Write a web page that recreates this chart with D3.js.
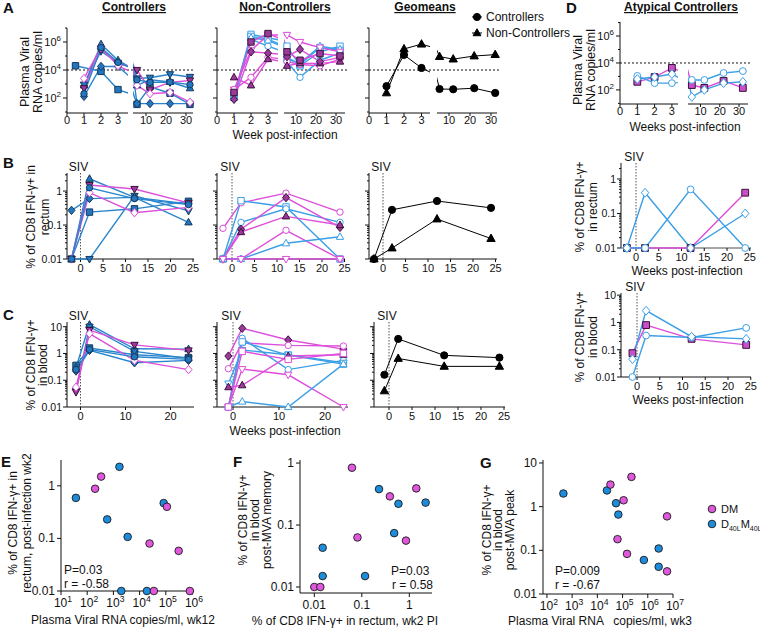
<!DOCTYPE html>
<html><head><meta charset="utf-8">
<script src="https://cdn.jsdelivr.net/npm/d3@7"></script>
<style>body{margin:0;background:#fff} svg{font-family:"Liberation Sans",Arial,Helvetica,sans-serif}</style>
</head><body><svg id="c" width="760" height="630"></svg>
<script>
// ================= DATA =================
// Row A: plasma viral RNA (copies/ml) vs week post-infection, [week, value]
const vlCtrl = [
  [[0.5,2e4],[2,8e3],[3,4e2],[5.5,35],[12,6.3e2],[22,2.2e2],[32,35]],
  [[1,8e2],[2,7e5],[3,5e4],[5.5,8e2],[12,2e3],[22,1.4e3],[32,5e2]],
  [[1,9e2],[2,2.2e5],[3,3.2e4],[5.5,2.5e3],[12,2.8e3],[22,5e3],[32,3.2e3]],
  [[1,1.3e2],[2,1.8e4],[3,1.8e4],[5.5,40],[12,40],[22,40],[32,40]],
  [[1,5e2],[2,3.2e5],[3,2.5e4],[5.5,1e4],[12,4e2],[22,1.3e3],[32,1.8e3]],
  [[1,2.5e3],[2,4e5],[3,2e4],[5.5,8e2],[12,2e2],[22,2.5e2],[32,50]],
  [[1,2e2],[2,4e5],[3,3.5e4],[5.5,2e3],[12,1.3e3],[22,1.4e3],[32,9e2]]
];
const vlCtrlSty = ['bSqF','bTriF','bInvF','bDiaF','pInvF','mDiaO','bCirF'];

const vlNon = [
  [[1,1.6e2],[2,3.5e6],[3,2e6],[5.5,5e5],[12,2e4],[22,2e5],[32,5e5]],
  [[1,1.3e2],[2,2.5e6],[3,1.6e6],[5.5,8e4],[12,2.5e4],[22,4e5],[32,2.5e5]],
  [[1,1e2],[2,1.6e6],[3,5e5],[5.5,4e4],[12,3e3],[22,5e4],[32,1.6e5]],
  [[1,1e2],[2,2e6],[3,1.3e6],[5.5,6e4],[12,3e4],[22,5e5],[32,3e5]],
  [[1,4e2],[2,2.5e5],[3,3.2e6],[5.5,3.2e6],[12,1e6],[22,4e5],[32,2e5]],
  [[1,4e2],[2,3e3],[3,8e4],[5.5,4e4],[12,2.5e4],[22,2e4],[32,6e4]],
  [[1,3e3],[2,8e2],[3,6e4],[5.5,2e4],[12,3e4],[22,3e4],[32,4e4]],
  [[1,80],[2,2e5],[3,1.6e5],[5.5,9e4],[12,3e5],[22,4e4],[32,8e4]],
  [[1,2.5e2],[2,1e6],[3,4e6],[5.5,2e5],[12,5e4],[22,1.5e5],[32,1e5]]
];
const vlNonSty = ['bSqO','bSqO','bCirO','bTriO','mInvO','mCirO','pTriF','pDiaF','pSqF'];

const vlGeoCtrl = [[1,7e2],[2,1.2e5],[3,1.4e4],[5.5,4.4e2],[12,4.2e2],[22,5e2],[32,2.3e2]];
const vlGeoNon  = [[1,2.3e2],[2,3.2e5],[3,7e5],[5.5,9e4],[12,6e4],[22,1e5],[32,1.25e5]];

const vlAtyp = [
  [[1,4e2],[2,9e2],[3,4.3e3],[5.5,2.3e2],[12,1.4e2],[22,4.7e2],[32,1.4e2]],
  [[1,1.1e3],[2,3.2e2],[3,3.2e2],[5.5,5.5e2],[12,5.5e2],[22,1.8e3],[32,2.5e3]],
  [[1,6.5e2],[2,9e2],[3,1.5e3],[5.5,30],[12,1e2],[22,3.2e2],[32,4e2]]
];
const atypSty = ['dSqF','bCirO','bDiaO'];

// Rows B/C: % CD8 IFN-g+ (weeks)
const rectWeeks  = [-2, 2, 12, 24];
const bloodWeeks = [-1, 2, 12, 24];

const rectCtrl = [
  [0.01,0.24,0.3,0.5],[0.01,2.3,0.65,0.12],[0.01,0.01,0.72,0.26],[0.27,0.6,0.65,0.42],
  [0.01,1.5,1.15,0.45],[0.01,0.9,0.23,0.33],[0.01,1.25,0.6,0.4]
];
const rectNon = [
  [0.08,0.45,0.87,0.24],[0.01,0.52,0.34,0.01],[0.01,0.12,0.3,0.12],[0.01,0.075,0.64,0.085],
  [0.01,0.062,0.18,0.1],[0.01,0.01,0.07,0.01],[0.01,0.01,0.029,0.045],[0.01,0.01,0.01,0.01]
];
const rectNonSty = ['mCirO','bSqO','bCirO','pDiaF','pTriF','mCirO','bTriO','mInvO'];
const rectGeoCtrl = [0.01,0.28,0.51,0.32];
const rectGeoNon  = [0.01,0.021,0.15,0.04];

const bloodCtrl = [
  [0.36,1.6,0.9,0.7],[0.3,12,1.5,1.45],[0.04,10,1.2,0.65],[0.22,1.3,0.45,0.55],
  [0.036,7.5,2.1,1.3],[0.055,5.5,0.55,0.25],[0.25,1.4,0.75,0.6]
];
const bloodNon = [
  [0.8,8.7,3.2,1.45],[0.27,2.5,2.0,1.9],[0.01,3.7,0.25,0.55],[0.01,2.7,0.87,0.4],
  [0.075,1.35,0.9,0.45],[0.01,0.26,0.16,0.01],[0.055,0.065,0.8,0.9],[0.01,0.016,0.01,0.4],
  [0.01,1.2,0.6,1.0]
];
const bloodNonSty = ['pDiaF','mCirO','bCirO','bSqO','bInvO','mInvO','pTriF','bTriO','mSqO'];
const bloodGeoCtrl = [0.16,3.5,0.85,0.7];
const bloodGeoNon  = [0.04,0.65,0.33,0.33];

const rectAtyp  = [[0.01,0.01,0.01,0.4],[0.01,0.01,0.5,0.01],[0.01,0.4,0.01,0.1]];
const bloodAtyp = [[0.075,0.8,0.25,0.15],[0.01,0.33,0.28,0.63],[0.045,2.7,0.3,0.25]];

// Scatter E/F/G
const eBlueX = [37,1700,580,3500,83000,2000,19000];
const eBlueY = [0.59,2.3,0.23,0.107,0.47,0.01,0.01];
const eMagX  = [200,340,110000,24000,310000,35000,830000];
const eMagY  = [0.88,1.5,0.4,0.08,0.058,0.01,0.01];
const fBlueX = [0.23,0.59,2.2,0.48,0.015,0.015,0.117];
const fBlueY = [0.38,0.22,0.23,0.074,0.043,0.015,0.015];
const fMagX  = [0.062,0.39,1.4,0.081,0.85,0.01,0.0134];
const fMagY  = [0.84,0.29,0.39,0.063,0.056,0.01,0.01];
const gBlueX = [450,24000,55000,68000,2.7e6,7e5,2.7e6];
const gBlueY = [2.0,2.35,1.2,0.66,0.11,0.06,0.042];
const gMagX  = [33000,225000,110000,5.8e6,63000,150000,5.8e6];
const gMagY  = [3.2,4.8,1.4,0.6,0.18,0.083,0.033];

// ================= STYLES =================
const C = {blue:'#2a86cc', bFill:'#2277c0', bDark:'#15395c', lblue:'#3c9fe6', mag:'#dd4fdb', pFill:'#9b3a9b', pDark:'#3a123a'};
const STY = {};
['Sq','Tri','Inv','Dia','Cir'].forEach(s=>{
  const sh = s.toLowerCase();
  STY['b'+s+'F'] = {shape:sh, fill:C.bFill, stroke:C.bDark, line:C.blue};
  STY['p'+s+'F'] = {shape:sh, fill:C.pFill, stroke:C.pDark, line:C.mag};
  STY['m'+s+'O'] = {shape:sh, fill:'#fff', stroke:C.mag, line:C.mag};
  STY['b'+s+'O'] = {shape:sh, fill:'#fff', stroke:C.lblue, line:C.lblue};
});
STY.dSqF = {shape:'sq', fill:'#c84fc8', stroke:'#3a123a', line:C.mag};
STY.kCir = {shape:'cir', fill:'#000', stroke:'#000', line:'#000'};
STY.kTri = {shape:'tri', fill:'#000', stroke:'#000', line:'#000'};

const svg = d3.select('#c');

function shapePath(shape, r){
  switch(shape){
    case 'sq': return `M${-r},${-r}h${2*r}v${2*r}h${-2*r}Z`;
    case 'cir': return `M${r},0A${r},${r} 0 1,1 ${-r},0A${r},${r} 0 1,1 ${r},0Z`;
    case 'tri': return `M0,${-1.25*r}L${1.15*r},${0.8*r}L${-1.15*r},${0.8*r}Z`;
    case 'inv': return `M0,${1.25*r}L${1.15*r},${-0.8*r}L${-1.15*r},${-0.8*r}Z`;
    case 'dia': return `M0,${-1.3*r}L${1.1*r},0L0,${1.3*r}L${-1.1*r},0Z`;
  }
}
function marker(g,x,y,st,r){
  g.append('path').attr('d',shapePath(st.shape,r)).attr('transform',`translate(${x},${y})`)
   .attr('fill',st.fill).attr('stroke',st.stroke).attr('stroke-width',1);
}
function txt(x,y,s,o={}){
  const t = svg.append('text').attr('x',x).attr('y',y).attr('font-size',o.size||12)
    .attr('text-anchor',o.anchor||'start').attr('fill','#111').text(s);
  if(o.bold) t.attr('font-weight','bold');
  if(o.underline) t.attr('text-decoration','underline');
  return t;
}
function vtxt(x,y,s,size){
  return svg.append('text').attr('transform',`translate(${x},${y}) rotate(-90)`)
    .attr('text-anchor','middle').attr('dy','0.35em').attr('font-size',size||12).attr('fill','#111').text(s);
}
function supLabel(g,x,y,base,exp,anchor,size){
  const t = g.append('text').attr('x',x).attr('y',y).attr('font-size',size||11).attr('text-anchor',anchor).attr('fill','#111');
  t.append('tspan').text(base);
  t.append('tspan').attr('dy',-5).attr('font-size',(size||11)*0.72).text(exp);
  return t;
}
function ln(g,x1,y1,x2,y2,col,w){
  return g.append('line').attr('x1',x1).attr('y1',y1).attr('x2',x2).attr('y2',y2)
    .attr('stroke',col||'#111').attr('stroke-width',w||1);
}
let clipN = 0;

// ---------- broken-axis viral load panel ----------
function vlPanel(o){
  const g = svg.append('g');
  const y = d3.scaleLog().domain(o.yDom).range([o.yBot,o.yTop]);
  const xl = d3.scaleLinear().domain([0,1]).range([o.x0,o.x0+o.lpw]);
  const xr = d3.scaleLinear().domain([10,30]).range([o.r10,o.r30]);
  const segs = [
    {x:xl, a:o.x0, b:o.lEnd, ticks:[0,1,2,3]},
    {x:xr, a:o.rStart, b:o.rEnd, ticks:[10,20,30]}
  ];
  segs.forEach(s=>{ s.dom=[s.x.invert(s.a), s.x.invert(s.b)]; });
  ln(g,o.x0,o.yTop,o.x0,o.yBot);
  const e0 = Math.ceil(Math.log10(o.yDom[0])), e1 = Math.floor(Math.log10(o.yDom[1]));
  for(let e=e0;e<=e1;e++){
    const v = Math.pow(10,e), major = e%2===0;
    ln(g,o.x0-(major?4:2),y(v),o.x0,y(v));
    if(major && o.yLabels) supLabel(g,o.x0-6,y(v)+4,'10',String(e),'end',11);
  }
  segs.forEach(s=>{
    ln(g,s.a,o.yBot,s.b,o.yBot);
    s.ticks.forEach(t=>{
      ln(g,s.x(t),o.yBot,s.x(t),o.yBot+3);
      g.append('text').attr('x',s.x(t)).attr('y',o.yBot+10.5).attr('text-anchor','middle')
        .attr('font-size',11).attr('fill','#111').text(t);
    });
  });
  ln(g,o.x0,y(1e4),o.rEnd+2,y(1e4),'#111',1).attr('stroke-dasharray','2,2');
  segs.forEach(s=>{
    const id = 'clip'+(clipN++);
    svg.append('clipPath').attr('id',id).append('rect')
      .attr('x',s.a).attr('y',o.yTop-10).attr('width',s.b-s.a).attr('height',o.yBot-o.yTop+20);
    const sg = g.append('g').attr('clip-path',`url(#${id})`);
    o.series.forEach((ser,i)=>{
      const st = STY[o.styles[i]];
      sg.append('path').attr('d',d3.line().x(d=>s.x(d[0])).y(d=>y(d[1]))(ser))
        .attr('fill','none').attr('stroke',st.line).attr('stroke-width',o.lw||1.4);
    });
  });
  segs.forEach(s=>{
    o.series.forEach((ser,i)=>{
      const st = STY[o.styles[i]];
      ser.filter(d=>d[0]>=s.dom[0]&&d[0]<=s.dom[1]).forEach(d=>marker(g,s.x(d[0]),y(d[1]),st,o.r||3.2));
    });
  });
}

// ---------- time course panel (B/C/D) ----------
function tPanel(o){
  const g = svg.append('g');
  const x = d3.scaleLinear().domain([0,10]).range([o.zeroX,o.zeroX+10*o.pw]);
  const y = d3.scaleLog().domain(o.yDom).range([o.yBot,o.yTop]);
  ln(g,o.x0,o.yTop,o.x0,o.yBot);
  const lo=o.yDom[0], hi=o.yDom[1];
  for(let e=Math.floor(Math.log10(lo));e<=Math.ceil(Math.log10(hi));e++){
    for(let k=1;k<10;k++){
      const v = k*Math.pow(10,e);
      if(v<lo*0.999||v>hi*1.001) continue;
      const major = k===1;
      ln(g,o.x0-(major?4:2),y(v),o.x0,y(v));
      if(major && o.yLabels){
        g.append('text').attr('x',o.x0-5).attr('y',y(v)+4).attr('text-anchor','end')
          .attr('font-size',10.5).attr('fill','#111').text(e>=0?String(Math.pow(10,e)):Math.pow(10,e).toFixed(-e));
      }
    }
  }
  ln(g,o.x0,o.yBot,o.xEnd,o.yBot,o.xAxisCol||'#111',o.xAxisW||1);
  o.xTicks.forEach(t=>{
    ln(g,x(t),o.yBot,x(t),o.yBot+3);
    g.append('text').attr('x',x(t)).attr('y',o.yBot+12.5).attr('text-anchor','middle')
      .attr('font-size',11).attr('fill','#111').text(t);
  });
  ln(g,x(0),o.yTop,x(0),o.yBot,'#555',1).attr('stroke-dasharray','1.5,1.5');
  g.append('text').attr('x',x(0)-2).attr('y',o.yTop-2).attr('text-anchor','middle')
    .attr('font-size',12).attr('fill','#111').text('SIV');
  const line = d3.line().x((d,i)=>x(o.weeks[i])).y(d=>y(d));
  o.series.forEach((ser,i)=>{
    g.append('path').attr('d',line(ser)).attr('fill','none')
      .attr('stroke',STY[o.styles[i]].line).attr('stroke-width',o.lw||1.4);
  });
  o.series.forEach((ser,i)=>{
    ser.forEach((v,j)=>marker(g,x(o.weeks[j]),y(v),STY[o.styles[i]],o.r||3.2));
  });
}

// ---------- scatter panel ----------
function scatter(o){
  const g = svg.append('g');
  const x = d3.scaleLog().domain(o.xDom).range(o.xR);
  const y = d3.scaleLog().domain(o.yDom).range(o.yR);
  ln(g,o.xR[0],o.yR[0],o.xR[0],o.yR[1]);
  ln(g,o.xR[0],o.yR[0],o.xR[1],o.yR[0]);
  o.xTicks.forEach(t=>{
    ln(g,x(t),o.yR[0],x(t),o.yR[0]+4);
    if(o.xSup) supLabel(g,x(t)+2,o.yR[0]+16,'10',String(Math.round(Math.log10(t))),'middle',12);
    else g.append('text').attr('x',x(t)).attr('y',o.yR[0]+16).attr('text-anchor','middle').attr('font-size',12).attr('fill','#111').text(t);
  });
  o.yTicks.forEach(t=>{
    ln(g,o.xR[0]-4,y(t),o.xR[0],y(t));
    g.append('text').attr('x',o.xR[0]-6).attr('y',y(t)+4).attr('text-anchor','end')
      .attr('font-size',12).attr('fill','#111').text(t);
  });
  const pts = (xs,ys,col)=>xs.forEach((v,i)=>{
    g.append('circle').attr('cx',x(v)).attr('cy',y(ys[i])).attr('r',3.8)
      .attr('fill',col).attr('stroke','#1a1a1a').attr('stroke-width',0.9);
  });
  pts(o.bx,o.by,'#1d8ddb');
  pts(o.mx,o.my,'#df58dc');
}

// ================= ROW A =================
txt(3,13,'A',{size:15,bold:true});
txt(134,11,'Controllers',{size:12,bold:true,anchor:'middle',underline:true});
txt(285,11,'Non-Controllers',{size:12,bold:true,anchor:'middle',underline:true});
txt(425,11,'Geomeans',{size:12,bold:true,anchor:'middle',underline:true});
vtxt(25,72,'Plasma Viral',12.5); vtxt(38,72,'RNA copies/ml',12.5);
vlPanel({x0:67,lpw:17,lEnd:128,r10:146,r30:186,rStart:133,rEnd:193,yTop:28,yBot:113,yDom:[8.5,1e7],
  yLabels:true,series:vlCtrl,styles:vlCtrlSty});
vlPanel({x0:217,lpw:17,lEnd:278,r10:296,r30:336,rStart:284,rEnd:345,yTop:28,yBot:113,yDom:[8.5,1e7],
  yLabels:false,series:vlNon,styles:vlNonSty});
vlPanel({x0:369,lpw:17.5,lEnd:430,r10:449,r30:491,rStart:437,rEnd:497,yTop:28,yBot:113,yDom:[8.5,1e7],
  yLabels:false,series:[vlGeoCtrl,vlGeoNon],styles:['kCir','kTri'],r:3.6,lw:1});
txt(285,139,'Week post-infection',{size:12,anchor:'middle'});
{
  const lg = svg.append('g');
  ln(lg,472,17,482,17,'#000',1); marker(lg,477,17,STY.kCir,3.6);
  ln(lg,472,33,482,33,'#000',1); marker(lg,477,33,STY.kTri,3.4);
  txt(486,21,'Controllers',{size:12});
  txt(486,37,'Non-Controllers',{size:12});
}

// ================= D =================
txt(566,13,'D',{size:15,bold:true});
txt(681,11,'Atypical Controllers',{size:12,bold:true,anchor:'middle',underline:true});
vtxt(578,70,'Plasma Viral',12.5); vtxt(591,70,'RNA copies/ml',12.5);
vlPanel({x0:620,lpw:17.3,lEnd:678,r10:700.5,r30:739,rStart:688,rEnd:748,yTop:22,yBot:104,yDom:[9,1.1e7],
  yLabels:true,series:vlAtyp,styles:atypSty,r:3.4});
txt(685,131,'Weeks post-infection',{size:12,anchor:'middle'});

tPanel({x0:621,zeroX:636,pw:4.55,xEnd:751,yTop:163,yBot:248,yDom:[0.01,2.9],xTicks:[0,5,10,15,20,25],
  yLabels:true,weeks:rectWeeks,series:rectAtyp,styles:atypSty,r:3.4,xAxisCol:'#888',xAxisW:1.5});
vtxt(580,207,'% of CD8 IFN-γ+',12); vtxt(593,207,'in rectum',12);
txt(687,275,'Weeks post-infection',{size:12,anchor:'middle'});

tPanel({x0:621,zeroX:637,pw:4.55,xEnd:751,yTop:293,yBot:377,yDom:[0.01,12],xTicks:[0,5,10,15,20,25],
  yLabels:true,weeks:bloodWeeks,series:bloodAtyp,styles:atypSty,r:3.4});
vtxt(580,337,'% of CD8 IFN-γ+',12); vtxt(593,337,'in blood',12);
txt(688,404,'Weeks post-infection',{size:12,anchor:'middle'});

// ================= ROW B =================
txt(3,168,'B',{size:15,bold:true});
vtxt(31,217,'% of CD8 IFN-γ+ in',12); vtxt(45,217,'rectum',12);
tPanel({x0:67,zeroX:80.5,pw:4.5,xEnd:194,yTop:173,yBot:259,yDom:[0.01,3.4],xTicks:[0,5,10,15,20,25],
  yLabels:true,weeks:rectWeeks,series:rectCtrl,styles:vlCtrlSty});
tPanel({x0:217,zeroX:232,pw:4.5,xEnd:345,yTop:173,yBot:259,yDom:[0.01,3.4],xTicks:[0,5,10,15,20,25],
  yLabels:false,weeks:rectWeeks,series:rectNon,styles:rectNonSty});
tPanel({x0:369,zeroX:383,pw:4.5,xEnd:497,yTop:173,yBot:259,yDom:[0.01,3.4],xTicks:[0,5,10,15,20,25],
  yLabels:false,weeks:rectWeeks,series:[rectGeoCtrl,rectGeoNon],styles:['kCir','kTri'],r:3.6,lw:1});

// ================= ROW C =================
txt(3,320,'C',{size:15,bold:true});
vtxt(31,365,'% of CD8 IFN-γ+',12); vtxt(43,365,'in blood',12);
tPanel({x0:67,zeroX:80.5,pw:4.5,xEnd:194,yTop:322,yBot:407,yDom:[0.01,15],xTicks:[0,10,20],
  yLabels:true,weeks:bloodWeeks,series:bloodCtrl,styles:vlCtrlSty});
tPanel({x0:217,zeroX:233,pw:4.6,xEnd:348,yTop:322,yBot:407,yDom:[0.01,15],xTicks:[0,10,20],
  yLabels:false,weeks:bloodWeeks,series:bloodNon,styles:bloodNonSty});
tPanel({x0:374,zeroX:389,pw:4.6,xEnd:505,yTop:322,yBot:407,yDom:[0.01,15],xTicks:[0,5,10,15,20,25],
  yLabels:false,weeks:bloodWeeks,series:[bloodGeoCtrl,bloodGeoNon],styles:['kCir','kTri'],r:3.6,lw:1});
txt(285,435,'Weeks post-infection',{size:12,anchor:'middle'});

// ================= ROW E/F/G =================
txt(1,467,'E',{size:15,bold:true});
vtxt(13,523,'% of CD8 IFN-γ+ in',12); vtxt(27,523,'rectum, post-infection wk2',12);
scatter({xDom:[10,1e6],xR:[61,192],yDom:[0.01,3.1],yR:[591,460],xTicks:[10,100,1e3,1e4,1e5,1e6],xSup:true,
  yTicks:[0.01,0.1,1],bx:eBlueX,by:eBlueY,mx:eMagX,my:eMagY});
txt(64,574,'P=0.03',{size:12}); txt(64,588,'r = -0.58',{size:12});
txt(123,624,'Plasma Viral RNA copies/ml, wk12',{size:12,anchor:'middle'});

txt(233,467,'F',{size:15,bold:true});
vtxt(243,520,'% of CD8 IFN-γ+',12); vtxt(255,520,'in blood',12); vtxt(267,520,'post-MVA memory',12);
scatter({xDom:[0.005,3],xR:[300,432],yDom:[0.008,1.12],yR:[593,460],xTicks:[0.01,0.1,1],xSup:false,
  yTicks:[0.01,0.1,1],bx:fBlueX,by:fBlueY,mx:fMagX,my:fMagY});
txt(391,575,'P=0.03',{size:12}); txt(392,589,'r = 0.58',{size:12});
txt(345,625,'% of CD8 IFN-γ+ in rectum, wk2 PI',{size:12,anchor:'middle'});

txt(480,468,'G',{size:15,bold:true});
vtxt(487,530,'% of CD8 IFN-γ+',12); vtxt(498,530,'in blood',12); vtxt(510,530,'post-MVA peak',12);
scatter({xDom:[70,1e7],xR:[543,673],yDom:[0.01,11.7],yR:[594,460],xTicks:[1e2,1e3,1e4,1e5,1e6,1e7],xSup:true,
  yTicks:[0.01,0.1,1,10],bx:gBlueX,by:gBlueY,mx:gMagX,my:gMagY});
txt(555,575,'P=0.009',{size:12}); txt(555,589,'r = -0.67',{size:12});
txt(600,625,'Plasma Viral RNA   copies/ml, wk3',{size:12,anchor:'middle'}).style('white-space','pre');
{
  const lg = svg.append('g');
  lg.append('circle').attr('cx',712).attr('cy',509).attr('r',3.8).attr('fill','#df58dc').attr('stroke','#1a1a1a').attr('stroke-width',0.9);
  lg.append('circle').attr('cx',712).attr('cy',524).attr('r',3.8).attr('fill','#1d8ddb').attr('stroke','#1a1a1a').attr('stroke-width',0.9);
  txt(721,513,'DM',{size:11});
  const t = txt(721,528,'',{size:11});
  t.append('tspan').text('D');
  t.append('tspan').attr('dy',3).attr('font-size',7).text('40L');
  t.append('tspan').attr('dy',-3).text('M');
  t.append('tspan').attr('dy',3).attr('font-size',7).text('40L');
}
</script></body></html>
